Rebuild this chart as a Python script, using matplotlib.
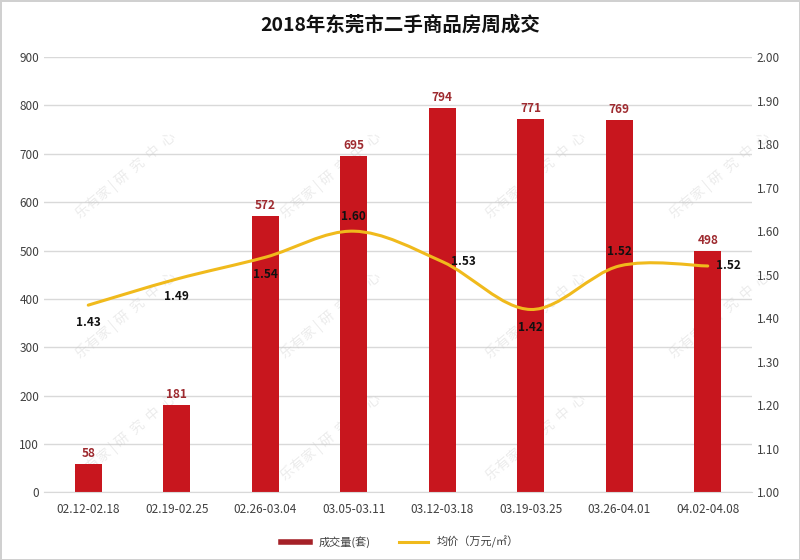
import numpy as np
import matplotlib
matplotlib.use("Agg")
from matplotlib import pyplot as plt
from matplotlib.path import Path
from matplotlib.patches import PathPatch
from matplotlib.lines import Line2D

plt.rcParams['font.family'] = ['Noto Sans CJK SC', 'DejaVu Sans']

weeks = ['02.12-02.18', '02.19-02.25', '02.26-03.04', '03.05-03.11',
         '03.12-03.18', '03.19-03.25', '03.26-04.01', '04.02-04.08']
volume = [58, 181, 572, 695, 794, 771, 769, 498]
price = [1.43, 1.49, 1.54, 1.60, 1.53, 1.42, 1.52, 1.52]
# where each price label sits relative to its point
price_pos = ['below', 'below', 'below', 'above', 'right', 'below', 'above', 'right']

bar_color = '#C8161E'
line_color = '#F0BA1C'

fig = plt.figure(figsize=(8, 5.6), dpi=100)
fig.patch.set_edgecolor('#d0d0d0')
fig.patch.set_linewidth(2)
ax = fig.add_axes([0.055, 0.121, 0.885, 0.777])
ax2 = ax.twinx()

x = np.arange(len(weeks))
ax.bar(x, volume, width=0.31, color=bar_color, zorder=2)
for xi, v in zip(x, volume):
    ax.annotate(str(v), (xi, v), xytext=(0, 3), textcoords='offset points',
                ha='center', va='bottom', fontsize=8.5, fontweight='bold',
                color='#9E2A2F')

ax.set_ylim(0, 900)
ax.set_yticks(range(0, 901, 100))
ax.set_xlim(-0.5, len(weeks) - 0.5)
ax.set_xticks(x)
ax.set_xticklabels(weeks)
ax.grid(axis='y', color='#d9d9d9', linewidth=1, zorder=0)
ax.set_axisbelow(True)

ax2.set_ylim(1.0, 2.0)
ax2.set_yticks(np.arange(1.0, 2.001, 0.1))
ax2.set_yticklabels(['%.2f' % t for t in np.arange(1.0, 2.001, 0.1)])

for a in (ax, ax2):
    for s in a.spines.values():
        s.set_visible(False)
    a.tick_params(length=0, labelsize=8.5, labelcolor='#404040')
ax.tick_params(axis='x', pad=8)
ax.spines['bottom'].set_visible(True)
ax.spines['bottom'].set_color('#d9d9d9')

# smooth line: Catmull-Rom segments as cubic Bezier curves
pts = np.column_stack([x, price]).astype(float)
verts = [tuple(pts[0])]
codes = [Path.MOVETO]
for i in range(len(pts) - 1):
    p0 = pts[i - 1] if i > 0 else pts[i]
    p1 = pts[i]
    p2 = pts[i + 1]
    p3 = pts[i + 2] if i + 2 < len(pts) else pts[i + 1]
    c1 = p1 + (p2 - p0) / 6.0
    c2 = p2 - (p3 - p1) / 6.0
    verts += [tuple(c1), tuple(c2), tuple(p2)]
    codes += [Path.CURVE4] * 3
ax2.add_patch(PathPatch(Path(verts, codes), fill=False, edgecolor=line_color,
                        linewidth=2.2, zorder=3, capstyle='round'))

offsets = {'below': ((0, -8), 'center', 'top'),
           'above': ((0, 6), 'center', 'bottom'),
           'right': ((6, 0), 'left', 'center')}
for xi, p, pos in zip(x, price, price_pos):
    off, ha, va = offsets[pos]
    ax2.annotate('%.2f' % p, (xi, p), xytext=off, textcoords='offset points',
                 ha=ha, va=va, fontsize=8.5, fontweight='bold', color='#111111',
                 zorder=4)

# watermark
for wx, wy in [(0.04, 0.62), (0.04, 0.30), (0.04, 0.02), (0.33, 0.62), (0.33, 0.30),
               (0.33, 0.02), (0.62, 0.62), (0.62, 0.30), (0.62, 0.02), (0.88, 0.62), (0.88, 0.30)]:
    ax.text(wx, wy, '乐有家 | 研  究  中  心', transform=ax.transAxes, rotation=40,
            fontsize=10, color='#c8c8c8', alpha=0.35, ha='left', va='bottom', zorder=1)

fig.text(0.5, 0.955, '2018年东莞市二手商品房周成交', ha='center', va='center',
         fontsize=14, fontweight='bold', color='#111111')

handles = [Line2D([], [], color='#A52128', linewidth=4),
           Line2D([], [], color=line_color, linewidth=2.2)]
fig.legend(handles, ['成交量(套)', '均价（万元/㎡）'], loc='center',
           bbox_to_anchor=(0.5, 0.032), ncol=2, frameon=False, fontsize=8,
           handlelength=2.6, columnspacing=2.5, labelcolor='#404040')

fig.savefig('out.png', dpi=100)
